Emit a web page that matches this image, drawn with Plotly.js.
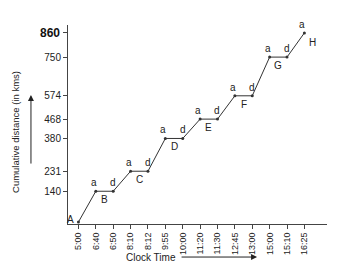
<!DOCTYPE html>
<html><head><meta charset="utf-8">
<script src="https://cdn.plot.ly/plotly-3.0.1.min.js"></script>
<style>html,body{margin:0;padding:0;background:#fff}#c{width:344px;height:273px}</style>
</head><body><div id="c"></div>
<script>
const times = ['5:00','6:40','6:50','8:10','8:12','9:55','10:00','11:20','11:30','12:45','13:00','15:00','15:10','16:25'];
const distance = [0,140,140,231,231,380,380,468,468,574,574,750,750,860];
const pointLabels = ['A','a','d','a','d','a','d','a','d','a','d','a','d','a'];
const stopNames = ['B','C','D','E','F','G'];
const yTickVals = [140,231,380,468,574,750,860];

const F = 'Liberation Sans, Arial, sans-serif';
const ink = '#222';
const ann = [];
pointLabels.forEach((t,i)=>{
  if (t==='A') {
    ann.push({x:times[i],y:distance[i],text:t,showarrow:false,xanchor:'right',yanchor:'middle',xshift:-2,yshift:3,font:{family:F,size:10,color:ink}});
  } else {
    ann.push({x:times[i],y:distance[i],text:t,showarrow:false,xanchor:'center',yanchor:'bottom',xshift:(t==='a'?-2:0),yshift:1,font:{family:F,size:10,color:ink}});
  }
});
stopNames.forEach((s,k)=>{
  const i = 1 + 2*k;
  ann.push({x:i+0.5,y:distance[i],text:s,showarrow:false,xanchor:'center',yanchor:'top',yshift:-1,font:{family:F,size:10,color:ink}});
});
ann.push({x:times.length-1,y:distance[distance.length-1],text:'H',showarrow:false,xanchor:'left',yanchor:'top',xshift:3,yshift:-2,font:{family:F,size:10,color:ink}});
ann.push({xref:'paper',x:0,y:860,text:'<b>860</b>',showarrow:false,xanchor:'right',yanchor:'middle',xshift:-6,font:{family:F,size:12,color:'#111'}});
ann.push({xref:'paper',yref:'paper',x:-0.205,y:0.462,text:'Cumulative distance (in kms)',textangle:-90,showarrow:false,xanchor:'center',yanchor:'middle',font:{family:F,size:9.5,color:ink}});
ann.push({xref:'paper',yref:'paper',x:-0.143,y:0.648,text:'',showarrow:true,arrowhead:2,arrowsize:1.2,arrowwidth:1,arrowcolor:ink,ax:0,ay:70});
ann.push({xref:'paper',yref:'paper',x:0.322,y:-0.166,text:'Clock Time',showarrow:false,xanchor:'center',yanchor:'middle',font:{family:F,size:10,color:ink}});
ann.push({xref:'paper',yref:'paper',x:0.73,y:-0.166,text:'',showarrow:true,arrowhead:2,arrowsize:1.2,arrowwidth:1,arrowcolor:ink,ax:-77,ay:0});

const trace = {x:times,y:distance,type:'scatter',mode:'lines+markers',line:{color:'#333',width:1},marker:{size:3,color:'#333'},hoverinfo:'skip'};

const layout = {
  width:344,height:273,
  margin:{l:68,r:17,t:25,b:49},
  paper_bgcolor:'#fff',plot_bgcolor:'#fff',
  showlegend:false,
  font:{family:F,size:9,color:ink},
  xaxis:{type:'category',range:[-0.6,14.3],showgrid:false,zeroline:false,showline:true,linecolor:'#444',linewidth:1,
    ticks:'outside',ticklen:4,tickcolor:'#444',tickangle:-90,tickfont:{family:F,size:9,color:ink},fixedrange:true},
  yaxis:{range:[-9,896],showgrid:false,zeroline:false,showline:true,linecolor:'#444',linewidth:1,
    tickmode:'array',tickvals:yTickVals,ticktext:yTickVals.map(v=>v===860?'':String(v)),
    ticks:'outside',ticklen:4,tickcolor:'#444',tickfont:{family:F,size:10,color:ink},fixedrange:true},
  annotations:ann
};
Plotly.newPlot('c',[trace],layout,{staticPlot:true});
</script></body></html>
